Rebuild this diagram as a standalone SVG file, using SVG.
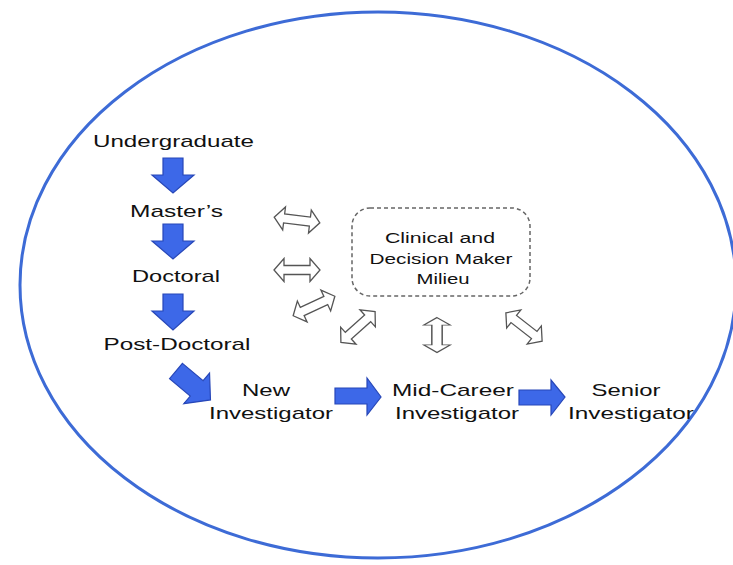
<svg xmlns="http://www.w3.org/2000/svg" xmlns:xlink="http://www.w3.org/1999/xlink" width="733" height="565" viewBox="0 0 733 565">
<style>
.t{font-family:"Liberation Sans",Arial,sans-serif;font-size:17px;fill:#111;text-anchor:middle}
.b{font-size:15.5px}
.blue{fill:#3d68e8;stroke:#2747b8;stroke-width:1.2;stroke-linejoin:miter}
.dbl{fill:#fff;stroke:#555;stroke-width:1.3;stroke-linejoin:miter}
</style>
<defs>
<path id="dblshape" d="M-23,0 L-13,-11.5 L-13,-4.5 L13,-4.5 L13,-11.5 L23,0 L13,11.5 L13,4.5 L-13,4.5 L-13,11.5 Z"/>
</defs>
<rect width="733" height="565" fill="#fff"/>
<ellipse id="context" cx="378" cy="285" rx="358" ry="273" fill="none" stroke="#3d6bd6" stroke-width="3"/>

<g id="undergraduate"><text class="t" x="173.5" y="147" textLength="161" lengthAdjust="spacingAndGlyphs">Undergraduate</text></g>
<g id="masters"><text class="t" x="176.5" y="217" textLength="93" lengthAdjust="spacingAndGlyphs">Master’s</text></g>
<g id="doctoral"><text class="t" x="176" y="282" textLength="88" lengthAdjust="spacingAndGlyphs">Doctoral</text></g>
<g id="postdoctoral"><text class="t" x="177" y="350" textLength="147" lengthAdjust="spacingAndGlyphs">Post-Doctoral</text></g>
<g id="new-investigator">
<text class="t" x="266" y="396" textLength="48" lengthAdjust="spacingAndGlyphs">New</text>
<text class="t" x="271" y="419" textLength="124" lengthAdjust="spacingAndGlyphs">Investigator</text>
</g>
<g id="mid-career">
<text class="t" x="453" y="396" textLength="122" lengthAdjust="spacingAndGlyphs">Mid-Career</text>
<text class="t" x="457" y="419" textLength="124" lengthAdjust="spacingAndGlyphs">Investigator</text>
</g>
<g id="senior">
<text class="t" x="626" y="396" textLength="69" lengthAdjust="spacingAndGlyphs">Senior</text>
<text class="t" x="631" y="419" textLength="126" lengthAdjust="spacingAndGlyphs">Investigator</text>
</g>
<g id="milieu">
<rect x="352" y="208" width="178" height="88" rx="18" ry="18" fill="#fff" stroke="#666" stroke-width="1.5" stroke-dasharray="4 3"/>
<text class="t b" x="440" y="243" textLength="110" lengthAdjust="spacingAndGlyphs">Clinical and</text>
<text class="t b" x="441" y="264" textLength="143" lengthAdjust="spacingAndGlyphs">Decision Maker</text>
<text class="t b" x="443" y="284" textLength="53" lengthAdjust="spacingAndGlyphs">Milieu</text>
</g>

<g id="connectors">
<polygon class="blue" points="163,158 183,158 183,175 194,175 173,193 152,175 163,175"/>
<polygon class="blue" points="163,224 183,224 183,241 194,241 173,259 152,241 163,241"/>
<polygon class="blue" points="163,294 183,294 183,311 194,311 173,330 152,311 163,311"/>
<polygon class="blue" transform="translate(176,371) rotate(40)" points="0,-10 27,-10 27,-20 45,0 27,20 27,10 0,10"/>
<polygon class="blue" points="335,388 367,388 367,378 381,397 367,415 367,404 335,404"/>
<polygon class="blue" points="519,390 551,390 551,380 565,397 551,415 551,405 519,405"/>

<use href="#dblshape" xlink:href="#dblshape" class="dbl" transform="translate(297,220) rotate(7)"/>
<use href="#dblshape" xlink:href="#dblshape" class="dbl" transform="translate(297,270)"/>
<use href="#dblshape" xlink:href="#dblshape" class="dbl" transform="translate(314,306) rotate(-25)"/>
<use href="#dblshape" xlink:href="#dblshape" class="dbl" transform="translate(358,327) rotate(-42)"/>
<use href="#dblshape" xlink:href="#dblshape" class="dbl" transform="translate(437,335) rotate(90) scale(0.76,1.15)"/>
<use href="#dblshape" xlink:href="#dblshape" class="dbl" transform="translate(524,327) rotate(38)"/>
</g>
</svg>
